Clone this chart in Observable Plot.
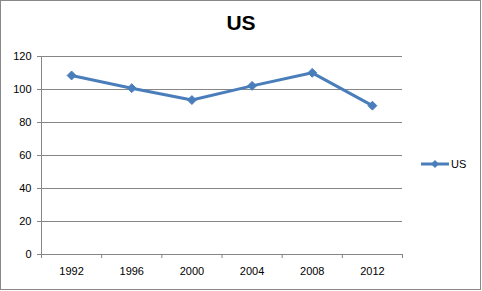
<!DOCTYPE html>
<html>
<head>
<meta charset="utf-8">
<script src="https://cdn.jsdelivr.net/npm/d3@7"></script>
<script src="https://cdn.jsdelivr.net/npm/@observablehq/plot@0.6"></script>
<style>
  html, body { margin: 0; padding: 0; background: #fff; }
  #wrap { position: relative; width: 482px; height: 291px; overflow: hidden; }
  #frame { position: absolute; left: 0; top: 0; width: 481px; height: 290px; box-sizing: border-box; border: 1px solid #888; pointer-events: none; }
  #title { position: absolute; left: 0; top: 11px; width: 482px; text-align: center; font: bold 21px "Liberation Sans", Arial, sans-serif; color: #000; }
  #legend { position: absolute; left: 420px; top: 157px; display: flex; align-items: center; font: 11px "Liberation Sans", Arial, sans-serif; color: #000; }
  #legend svg { display: block; }
  #chart svg { display: block; }
</style>
</head>
<body>
<div id="wrap">
  <div id="chart"></div>
  <div id="title"></div>
  <div id="legend"></div>
  <div id="frame"></div>
</div>
<script>
const title = "US";
const seriesName = "US";
const years = [1992, 1996, 2000, 2004, 2008, 2012];
const values = [108.5, 100.8, 93.6, 102.2, 110.1, 90.2];
const yTicks = [0, 20, 40, 60, 80, 100, 120];
const xTickMarks = [1990, 1994, 1998, 2002, 2006, 2010, 2014];
const color = "#4A7EBB";
const gridColor = "#868686";

const data = years.map((year, i) => ({year, value: values[i]}));

const chart = Plot.plot({
  width: 482,
  height: 291,
  marginTop: 56,
  marginRight: 80,
  marginBottom: 37,
  marginLeft: 41,
  style: {fontFamily: "'Liberation Sans', Arial, sans-serif", fontSize: "11px", color: "#000", background: "transparent"},
  x: {type: "linear", domain: [1990, 2014]},
  y: {domain: [0, 120]},
  marks: [
    Plot.ruleY(yTicks, {stroke: gridColor, strokeWidth: 1, strokeOpacity: 1}),
    Plot.ruleX([1990], {stroke: gridColor, strokeWidth: 1}),
    Plot.axisY({ticks: yTicks, tickSize: 4, tickPadding: 6, stroke: gridColor, strokeOpacity: 1, label: null, fill: "#000", fontSize: 11}),
    Plot.axisX({ticks: xTickMarks, tickSize: 4, tickFormat: () => "", stroke: gridColor, strokeOpacity: 1, label: null}),
    Plot.axisX({ticks: years, tickSize: 0, tickPadding: 13, tickFormat: d => String(d), label: null, fill: "#000", fontSize: 11}),
    Plot.line(data, {x: "year", y: "value", stroke: color, strokeWidth: 3}),
    Plot.dot(data, {x: "year", y: "value", symbol: "diamond2", r: 4, fill: color, stroke: color, strokeWidth: 1})
  ]
});
document.getElementById("chart").appendChild(chart);
document.getElementById("title").textContent = title;

const legend = document.getElementById("legend");
legend.innerHTML = `<svg width="30" height="14"><line x1="1" x2="29" y1="7" y2="7" stroke="${color}" stroke-width="3"/><path d="M15,3L19,7L15,11L11,7Z" fill="${color}"/></svg><span style="margin-left:1px">${seriesName}</span>`;
</script>
</body>
</html>
